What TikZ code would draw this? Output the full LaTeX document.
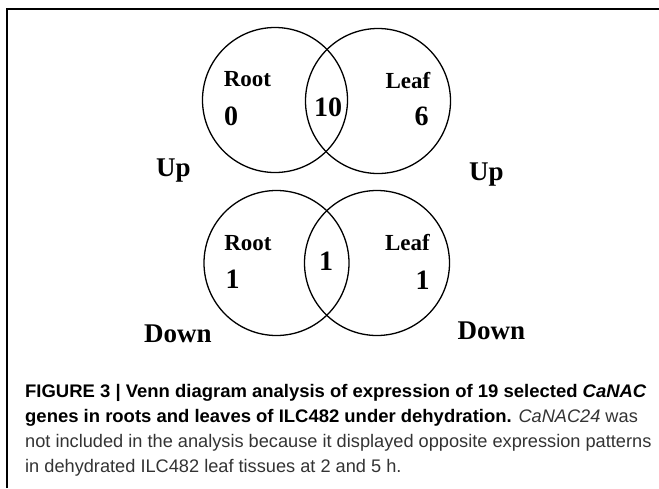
\documentclass[tikz,border=0pt]{standalone}
\usepackage{fontspec}
\setmainfont{Liberation Serif}
\setsansfont{Liberation Sans}[BoldFeatures={FakeStretch=1.015}, BoldItalicFeatures={FakeStretch=1.015}]
\usepackage{tikz}

\begin{document}
\begin{tikzpicture}[x=1pt, y=-1pt,
    set/.style={draw, circle, line width=1.3pt, minimum size=145pt, inner sep=0pt},
    tag/.style={anchor=base, inner sep=0pt, font=\bfseries\fontsize{23}{23}\selectfont},
    count/.style={anchor=base, inner sep=0pt, font=\bfseries\fontsize{28}{28}\selectfont},
    dir/.style={anchor=base, inner sep=0pt, font=\bfseries\fontsize{27}{27}\selectfont},
    capline/.style={anchor=base west, inner sep=0pt, font=\sffamily\fontsize{18.2}{18.2}\selectfont}]
  \useasboundingbox (0,0) rectangle (659,488);
  \draw[line width=2pt] (7,488) -- (7,9) -- (659,9);

  % up-regulated
  \node[set] (upRoot) at (275,100) {};
  \node[set] (upLeaf) at (378,101) {};
  \node[tag] (upRootName) at (247.5,86.7) {Root};
  \node[tag] (upLeafName) at (408,88.3) {Leaf};
  \node[count] (upRootOnly) at (231,125) {0};
  \node[count] (upBoth) at (328,116.7) {10};
  \node[count] (upLeafOnly) at (421.5,125.7) {6};
  \node[dir] (upLeft) at (173.5,176.7) {Up};
  \node[dir] (upRight) at (486.5,180) {Up};

  % down-regulated
  \node[set] (downRoot) at (276.5,263) {};
  \node[set] (downLeaf) at (377,263) {};
  \node[tag] (downRootName) at (248,250.7) {Root};
  \node[tag] (downLeafName) at (407.5,250.7) {Leaf};
  \node[count] (downRootOnly) at (232.5,288.3) {1};
  \node[count] (downBoth) at (326,270) {1};
  \node[count] (downLeafOnly) at (422.5,289) {1};
  \node[dir] (downLeft) at (178,342.7) {Down};
  \node[dir] (downRight) at (491.5,339.3) {Down};

  % caption
  \node[capline] (cap1) at (25,397) {\bfseries FIGURE 3 | Venn diagram analysis of expression of 19 selected \textit{CaNAC}};
  \node[capline] (cap2) at (25,422) {\textbf{genes in roots and leaves of ILC482 under dehydration.} \color{black!80}\textit{CaNAC24} was};
  \node[capline, text=black!80] (cap3) at (25,447) {not included in the analysis because it displayed opposite expression patterns};
  \node[capline, text=black!80] (cap4) at (25,472) {in dehydrated ILC482 leaf tissues at 2 and 5 h.};
\end{tikzpicture}
\end{document}
